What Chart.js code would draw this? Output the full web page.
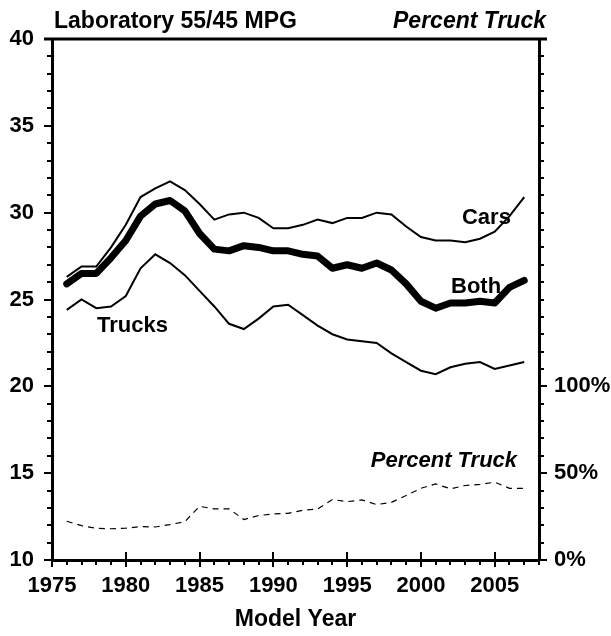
<!DOCTYPE html>
<html>
<head>
<meta charset="utf-8">
<title>Laboratory 55/45 MPG</title>
<script src="https://cdn.jsdelivr.net/npm/chart.js@4.4.1/dist/chart.umd.min.js"></script>
<style>
    html, body { margin: 0; padding: 0; background: #fff; }
    #wrap { width: 611px; height: 636px; }
</style>
</head>
<body>
<div id="wrap"><canvas id="mpgChart" width="611" height="636"></canvas></div>
<script>
const years = [1976, 1977, 1978, 1979, 1980, 1981, 1982, 1983, 1984, 1985, 1986, 1987, 1988, 1989, 1990, 1991,
    1992, 1993, 1994, 1995, 1996, 1997, 1998, 1999, 2000, 2001, 2002, 2003, 2004, 2005, 2006, 2007];

const carsMpg = [26.3, 26.9, 26.9, 28.0, 29.3, 30.9, 31.4, 31.8, 31.3, 30.5, 29.6, 29.9, 30.0, 29.7, 29.1, 29.1,
    29.3, 29.6, 29.4, 29.7, 29.7, 30.0, 29.9, 29.2, 28.6, 28.4, 28.4, 28.3, 28.5, 28.9, 29.8, 30.9];

const bothMpg = [25.9, 26.5, 26.5, 27.4, 28.4, 29.8, 30.5, 30.7, 30.1, 28.8, 27.9, 27.8, 28.1, 28.0, 27.8, 27.8,
    27.6, 27.5, 26.8, 27.0, 26.8, 27.1, 26.7, 25.9, 24.9, 24.5, 24.8, 24.8, 24.9, 24.8, 25.7, 26.1];

const trucksMpg = [24.4, 25.0, 24.5, 24.6, 25.2, 26.8, 27.6, 27.1, 26.4, 25.5, 24.6, 23.6, 23.3, 23.9, 24.6, 24.7,
    24.1, 23.5, 23.0, 22.7, 22.6, 22.5, 21.9, 21.4, 20.9, 20.7, 21.1, 21.3, 21.4, 21.0, 21.2, 21.4];

const percentTruck = [22.3, 19.8, 18.2, 18.0, 18.3, 19.2, 19.0, 20.4, 22.1, 30.9, 29.4, 29.4, 23.3, 25.6, 26.5, 26.9,
    28.6, 29.4, 34.8, 33.6, 34.6, 31.9, 33.2, 37.1, 41.3, 43.8, 41.0, 42.9, 43.5, 44.8, 41.3, 41.3];

const mpgTicks = [10, 15, 20, 25, 30, 35, 40];
const percentTicks = [0, 50, 100];

const FONT = "'Liberation Sans', Arial, Helvetica, sans-serif";

function toPoints(values) {
    return years.map((yr, i) => ({ x: yr, y: values[i] }));
}

// tick marks, top frame line and the in-plot labels
const framePlugin = {
    id: 'frame',
    afterDraw(chart) {
        const { ctx, chartArea } = chart;
        const x = chart.scales.x, y = chart.scales.y, y2 = chart.scales.y2;
        ctx.save();
        ctx.strokeStyle = '#000';
        ctx.lineCap = 'butt';

        // left axis ticks
        ctx.lineWidth = 2;
        for (let v = 10; v <= 40; v++) {
            const py = Math.round(y.getPixelForValue(v));
            const len = mpgTicks.includes(v) ? 8 : 5;
            ctx.beginPath();
            ctx.moveTo(chartArea.left - len, py);
            ctx.lineTo(chartArea.left, py);
            ctx.stroke();
        }

        // right axis ticks
        for (let v = 0; v <= 300; v += 10) {
            const py = Math.round(y2.getPixelForValue(v));
            const len = percentTicks.includes(v) ? 8 : 5;
            ctx.beginPath();
            ctx.moveTo(chartArea.right, py);
            ctx.lineTo(chartArea.right + len, py);
            ctx.stroke();
        }

        // bottom axis ticks
        for (let yr = 1975; yr <= 2008; yr++) {
            const px = Math.round(x.getPixelForValue(yr));
            ctx.beginPath();
            if (yr % 5 === 0) {
                ctx.moveTo(px, chartArea.bottom - 8);
                ctx.lineTo(px, chartArea.bottom + 7);
            } else {
                ctx.moveTo(px, chartArea.bottom);
                ctx.lineTo(px, chartArea.bottom + 5);
            }
            ctx.stroke();
        }

        // top frame line
        ctx.lineWidth = 3;
        ctx.beginPath();
        ctx.moveTo(chartArea.left - 8, chartArea.top);
        ctx.lineTo(chartArea.right + 8, chartArea.top);
        ctx.stroke();

        ctx.fillStyle = '#000';
        ctx.textBaseline = 'alphabetic';

        // headers above the frame
        ctx.font = 'bold 23px ' + FONT;
        ctx.textAlign = 'left';
        ctx.fillText('Laboratory 55/45 MPG', chartArea.left + 2, chartArea.top - 11);
        ctx.font = 'italic bold 23px ' + FONT;
        ctx.textAlign = 'right';
        ctx.fillText('Percent Truck', chartArea.right + 7, chartArea.top - 11);

        // series names
        ctx.textAlign = 'left';
        ctx.font = 'bold 22px ' + FONT;
        ctx.fillText('Cars', x.getPixelForValue(2002.78), y.getPixelForValue(29.35));
        ctx.fillText('Both', x.getPixelForValue(2002.04), y.getPixelForValue(25.37));
        ctx.fillText('Trucks', x.getPixelForValue(1978.05), y.getPixelForValue(23.13));
        ctx.font = 'italic bold 22px ' + FONT;
        ctx.fillText('Percent Truck', x.getPixelForValue(1996.6), y.getPixelForValue(15.36));

        ctx.restore();
    }
};

const ctx = document.getElementById('mpgChart').getContext('2d');

new Chart(ctx, {
    type: 'line',
    data: {
        datasets: [
            {
                label: 'Cars',
                data: toPoints(carsMpg),
                yAxisID: 'y',
                borderColor: '#000',
                borderWidth: 2,
                pointRadius: 0,
                tension: 0,
                fill: false
            },
            {
                label: 'Trucks',
                data: toPoints(trucksMpg),
                yAxisID: 'y',
                borderColor: '#000',
                borderWidth: 2,
                pointRadius: 0,
                tension: 0,
                fill: false
            },
            {
                label: 'Both',
                data: toPoints(bothMpg),
                yAxisID: 'y',
                borderColor: '#000',
                borderWidth: 7,
                borderJoinStyle: 'round',
                borderCapStyle: 'round',
                pointRadius: 0,
                tension: 0,
                fill: false
            },
            {
                label: 'Percent Truck',
                data: toPoints(percentTruck),
                yAxisID: 'y2',
                borderColor: '#000',
                borderWidth: 1.2,
                borderDash: [6, 5],
                pointRadius: 0,
                tension: 0,
                fill: false
            }
        ]
    },
    options: {
        responsive: false,
        animation: false,
        layout: {
            padding: { top: 39, left: 0, right: 0, bottom: 0 }
        },
        plugins: {
            legend: { display: false },
            tooltip: { enabled: false }
        },
        scales: {
            x: {
                type: 'linear',
                position: 'bottom',
                min: 1975,
                max: 2008,
                grid: { display: false },
                border: { display: true, color: '#000', width: 3 },
                ticks: {
                    stepSize: 1,
                    autoSkip: false,
                    maxRotation: 0,
                    padding: 5,
                    color: '#000',
                    font: { family: FONT, weight: 'bold', size: 22 },
                    callback: v => (v % 5 === 0 ? String(v) : '')
                },
                title: {
                    display: true,
                    text: 'Model Year',
                    color: '#000',
                    font: { family: FONT, weight: 'bold', size: 23 },
                    padding: { top: 0, bottom: 3 }
                },
                afterFit: scale => { scale.height = 76; }
            },
            y: {
                type: 'linear',
                position: 'left',
                min: 10,
                max: 40,
                grid: { display: false },
                border: { display: true, color: '#000', width: 3 },
                ticks: {
                    stepSize: 1,
                    autoSkip: false,
                    padding: 10,
                    color: '#000',
                    font: { family: FONT, weight: 'bold', size: 22 },
                    callback: v => (mpgTicks.includes(v) ? String(v) : '')
                },
                afterFit: scale => { scale.width = 52; }
            },
            y2: {
                type: 'linear',
                position: 'right',
                min: 0,
                max: 300,
                grid: { display: false },
                border: { display: true, color: '#000', width: 3 },
                ticks: {
                    stepSize: 10,
                    autoSkip: false,
                    padding: 7,
                    color: '#000',
                    font: { family: FONT, weight: 'bold', size: 22 },
                    callback: v => (percentTicks.includes(v) ? v + '%' : '')
                },
                afterFit: scale => { scale.width = 72; }
            }
        }
    },
    plugins: [framePlugin]
});
</script>
</body>
</html>
